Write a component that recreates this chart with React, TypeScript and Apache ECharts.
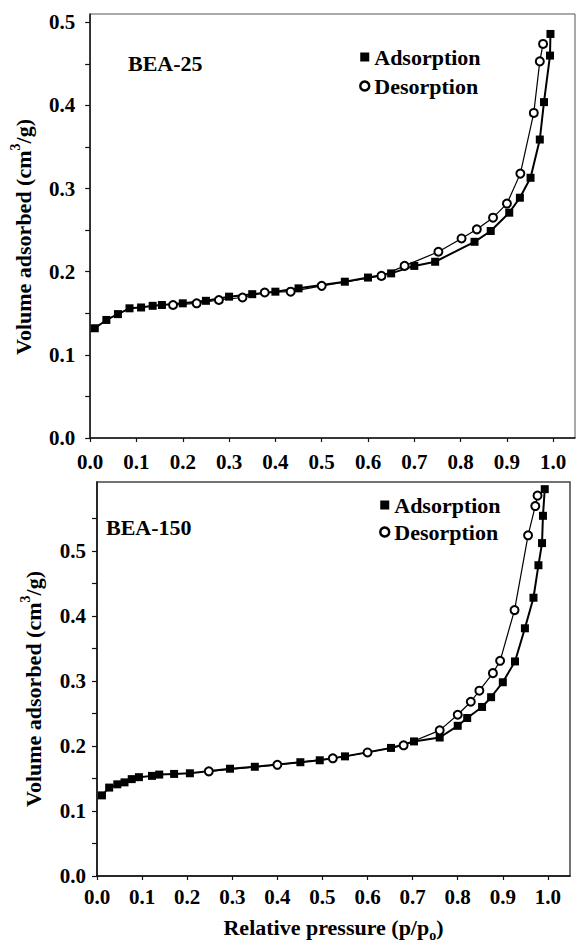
import React, { useEffect, useRef } from "react";
import * as echarts from "echarts";

// ---- Data: BEA-25 ----
const topAdsX = [0.01, 0.035, 0.06, 0.085, 0.11, 0.135, 0.155, 0.2, 0.25, 0.3, 0.35, 0.4, 0.45, 0.55, 0.6, 0.65, 0.7, 0.745, 0.83, 0.865, 0.905, 0.928, 0.951, 0.971, 0.98, 0.993, 0.994];
const topAdsY = [0.132, 0.142, 0.149, 0.156, 0.157, 0.159, 0.16, 0.162, 0.165, 0.17, 0.173, 0.176, 0.18, 0.188, 0.193, 0.198, 0.207, 0.212, 0.236, 0.249, 0.271, 0.289, 0.313, 0.359, 0.404, 0.46, 0.486];
const topDesX = [0.978, 0.971, 0.958, 0.929, 0.9, 0.87, 0.835, 0.802, 0.752, 0.679, 0.629, 0.5, 0.433, 0.377, 0.329, 0.278, 0.23, 0.179];
const topDesY = [0.474, 0.453, 0.391, 0.318, 0.282, 0.265, 0.251, 0.24, 0.224, 0.207, 0.195, 0.183, 0.176, 0.175, 0.169, 0.166, 0.162, 0.16];

// ---- Data: BEA-150 ----
const botAdsX = [0.011, 0.027, 0.045, 0.061, 0.077, 0.093, 0.122, 0.138, 0.171, 0.206, 0.295, 0.35, 0.451, 0.494, 0.55, 0.652, 0.703, 0.76, 0.8, 0.821, 0.854, 0.874, 0.9, 0.927, 0.949, 0.968, 0.979, 0.987, 0.989, 0.993];
const botAdsY = [0.124, 0.136, 0.141, 0.144, 0.149, 0.152, 0.154, 0.156, 0.157, 0.158, 0.165, 0.168, 0.175, 0.178, 0.184, 0.197, 0.207, 0.213, 0.231, 0.243, 0.26, 0.275, 0.298, 0.33, 0.381, 0.428, 0.478, 0.512, 0.554, 0.595];
const botDesX = [0.977, 0.972, 0.956, 0.926, 0.894, 0.878, 0.848, 0.829, 0.8, 0.76, 0.68, 0.6, 0.523, 0.4, 0.248];
const botDesY = [0.585, 0.569, 0.524, 0.409, 0.331, 0.312, 0.285, 0.268, 0.248, 0.224, 0.201, 0.19, 0.181, 0.171, 0.161];

// ---- Ticks ----
const xTickValues = [0, 0.1, 0.2, 0.3, 0.4, 0.5, 0.6, 0.7, 0.8, 0.9, 1.0];
const yLabelTop = [0, 0.1, 0.2, 0.3, 0.4, 0.5];
const yTickTop = [0, 0.05, 0.1, 0.15, 0.2, 0.25, 0.3, 0.35, 0.4, 0.45, 0.5];
const yLabelBottom = [0, 0.1, 0.2, 0.3, 0.4, 0.5];
const yTickBottom = [0, 0.05, 0.1, 0.15, 0.2, 0.25, 0.3, 0.35, 0.4, 0.45, 0.5, 0.55];

const seriesNames = ["Adsorption", "Desorption"];
const panelTitles = ["BEA-25", "BEA-150"];

const FONT = "'Liberation Serif', 'Times New Roman', serif";

const zip = (xs: number[], ys: number[]) => xs.map((x, i) => [x, ys[i]]);

export default function App() {
  const ref = useRef<HTMLDivElement>(null);
  useEffect(() => {
    if (!ref.current) return;
    const chart = echarts.init(ref.current, null, { renderer: "svg" });
    const axisLine = { show: true, lineStyle: { color: "#111", width: 1.5 } };
    const labelStyle = { color: "#000", fontFamily: FONT, fontWeight: "bold" as const, fontSize: 21 };
    const fmt = (v: number) => v.toFixed(1);
    const nameStyle = {
      color: "#000",
      fontFamily: FONT,
      fontWeight: "bold" as const,
      fontSize: 22,
      lineHeight: 30,
      rich: {
        sup: { fontFamily: FONT, fontWeight: "bold" as const, fontSize: 14, lineHeight: 14, verticalAlign: "top" as const, color: "#000" },
        sub: { fontFamily: FONT, fontWeight: "bold" as const, fontSize: 14, lineHeight: 14, verticalAlign: "bottom" as const, color: "#000" },
      },
    };
    const mkX = (gridIndex: number, margin: number, name?: string) => ({
      type: "value" as const,
      gridIndex,
      min: 0,
      max: gridIndex === 0 ? 1.047 : 1.049,
      splitLine: { show: false },
      axisLine,
      axisTick: { show: true, length: 4, customValues: xTickValues, lineStyle: { color: "#111", width: 1.2 } },
      axisLabel: { ...labelStyle, margin, customValues: xTickValues, formatter: fmt },
      name: name || "",
      nameLocation: "middle" as const,
      nameGap: 36,
      nameTextStyle: nameStyle,
    });
    const mkY = (gridIndex: number, max: number, labels: number[], ticks: number[], margin: number, gap: number, pad: number) => ({
      type: "value" as const,
      gridIndex,
      min: 0,
      max,
      splitLine: { show: false },
      axisLine,
      axisTick: { show: true, length: 5, customValues: ticks, lineStyle: { color: "#111", width: 1.2 } },
      axisLabel: { ...labelStyle, margin, customValues: labels, formatter: fmt },
      name: "Volume adsorbed (cm{sup|3}/g)",
      nameLocation: "middle" as const,
      nameRotate: 90,
      nameGap: gap,
      nameTextStyle: { ...nameStyle, padding: [0, pad, 0, 0] },
    });
    const adsStyle = (xi: number) => ({
      type: "line" as const,
      name: seriesNames[0],
      xAxisIndex: xi,
      yAxisIndex: xi,
      symbol: "rect",
      symbolSize: 8,
      itemStyle: { color: "#000" },
      lineStyle: { color: "#000", width: 2 },
      z: 2,
    });
    const desStyle = (xi: number) => ({
      type: "line" as const,
      name: seriesNames[1],
      xAxisIndex: xi,
      yAxisIndex: xi,
      symbol: "circle",
      symbolSize: 8,
      itemStyle: { color: "#fff", borderColor: "#000", borderWidth: 2 },
      lineStyle: { color: "#000", width: 1.2 },
      z: 3,
    });
    const legendBase = {
      orient: "vertical" as const,
      itemWidth: 9,
      itemHeight: 9,
      selectedMode: false,
      textStyle: { color: "#000", fontFamily: FONT, fontWeight: "bold" as const, fontSize: 22 },
      data: [
        { name: seriesNames[0], icon: "rect" },
        { name: seriesNames[1], icon: "circle", itemStyle: { color: "#fff", borderColor: "#000", borderWidth: 2.5 } },
      ],
    };
    chart.setOption({
      animation: false,
      backgroundColor: "#fff",
      grid: [
        { left: 87, top: 14, width: 488, height: 424, show: true, borderColor: "#555", borderWidth: 1, backgroundColor: "transparent" },
        { left: 97, top: 482, width: 473, height: 400, show: true, borderColor: "#444", borderWidth: 1.5, backgroundColor: "transparent" },
      ],
      xAxis: [mkX(0, 13), mkX(1, 10, "Relative pressure (p/p{sub|o})")],
      yAxis: [
        mkY(0, 0.51, yLabelTop, yTickTop, 15, 50, 22),
        mkY(1, 0.606, yLabelBottom, yTickBottom, 11, 44, 20),
      ],
      legend: [
        { ...legendBase, left: 354, top: 41, itemGap: 7 },
        { ...legendBase, left: 374, top: 489, itemGap: 5 },
      ],
      graphic: [
        { type: "text", left: 128, top: 52, style: { text: panelTitles[0], fill: "#000", font: `bold 22px ${FONT}` } },
        { type: "text", left: 106, top: 516, style: { text: panelTitles[1], fill: "#000", font: `bold 22px ${FONT}` } },
      ],
      series: [
        { ...adsStyle(0), data: zip(topAdsX, topAdsY) },
        { ...desStyle(0), data: zip(topDesX, topDesY) },
        { ...adsStyle(1), data: zip(botAdsX, botAdsY) },
        { ...desStyle(1), data: zip(botDesX, botDesY) },
      ],
    });
    return () => chart.dispose();
  }, []);
  return <div ref={ref} style={{ position: "absolute", left: 0, top: 0, width: 576, height: 943 }} />;
}
